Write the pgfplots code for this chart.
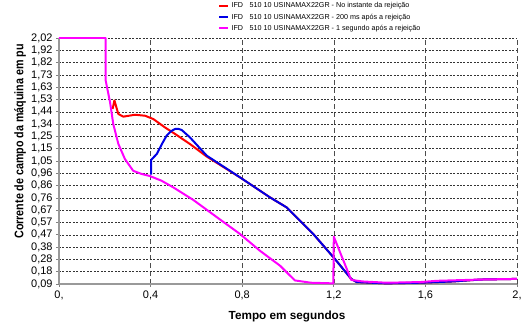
\documentclass[border=0pt]{standalone}
\usepackage{pgfplots}
\pgfplotsset{compat=1.18}
\usepackage{graphicx}
\usepackage{fontspec}
\setmainfont{Liberation Sans}
\definecolor{myred}{RGB}{255,0,0}
\definecolor{myblue}{RGB}{0,0,230}
\definecolor{mymag}{RGB}{255,0,255}
\begin{document}
\begin{tikzpicture}
\begin{axis}[
  scale only axis,
  width=458bp, height=246bp,
  xmin=0, xmax=2, ymin=0.09, ymax=2.02,
  axis x line*=bottom, axis y line*=left,
  axis line style={-, draw=gray!80, line width=1.2pt},
  xtick={0,0.4,0.8,1.2,1.6,2},
  xticklabels={{0,},{0,4},{0,8},{1,2},{1,6},{2,}},
  ytick={0.09,0.1865,0.283,0.3795,0.476,0.5725,0.669,0.7655,0.862,0.9585,1.055,1.1515,1.248,1.3445,1.441,1.5375,1.634,1.7305,1.827,1.9235,2.02},
  yticklabels={{0,09},{0,18},{0,28},{0,38},{0,47},{0,57},{0,67},{0,76},{0,86},{0,96},{1,05},{1,15},{1,25},{1,34},{1,44},{1,53},{1,63},{1,73},{1,82},{1,92},{2,02}},
  tick label style={font=\fontsize{11}{12}\selectfont},
  /pgf/number format/assume math mode=true,
  tick align=outside, major tick length=3pt,
  tick style={draw=gray, line width=0.8pt},
  xmajorgrids, ymajorgrids,
  x grid style={draw=black!70, line width=0.6pt, dash pattern=on 5pt off 3pt},
  y grid style={draw=black!80, line width=0.5pt, dash pattern=on 2pt off 1.5pt},
  xlabel={\bfseries Tempo em segundos},
  ylabel={\scalebox{0.86}[1]{\bfseries Corrente de campo da máquina em pu}},
  xlabel style={font=\fontsize{11.8}{13}\selectfont, at={(axis description cs:0.498,-0.133)}, anchor=center},
  ylabel style={font=\fontsize{12.5}{13}\selectfont, at={(axis description cs:-0.085,0.58)}, anchor=center},
  legend style={at={(axis description cs:0.347,1.152)}, anchor=north west,
    draw=none, fill=none, font=\fontsize{7.2}{8}\selectfont, row sep=0.3pt,
    inner sep=0pt},
  legend cell align=left,
  legend image code/.code={\draw[#1, line width=2.5pt] (0,0) -- (9bp,0);},
  every axis plot/.append style={line width=2pt, line join=round},
]
\addplot[myred] coordinates {
(0.234,1.463)(0.242,1.53)(0.259,1.424)(0.281,1.403)(0.305,1.41)(0.332,1.418)(0.376,1.41)(0.412,1.384)(0.463,1.318)(0.507,1.267)(0.572,1.188)(0.645,1.09)(0.79,0.927)(0.921,0.77)(0.994,0.691)(1.11,0.483)(1.205,0.286)(1.276,0.13)(1.30,0.105)(1.43,0.095)(1.576,0.10)(1.72,0.11)(1.84,0.125)(2.0,0.13)
};
\addlegendentry{IFD\hspace{0.9em}510 10 USINAMAX22GR - No instante da rejeição}
\addplot[myblue] coordinates {
(0.402,0.948)(0.402,1.063)(0.427,1.11)(0.45,1.19)(0.47,1.254)(0.49,1.29)(0.507,1.306)(0.52,1.308)(0.536,1.298)(0.572,1.24)(0.645,1.097)(0.79,0.927)(0.921,0.77)(0.994,0.691)(1.11,0.483)(1.205,0.286)(1.276,0.13)(1.30,0.105)(1.43,0.095)(1.576,0.10)(1.72,0.11)(1.84,0.125)(2.0,0.13)
};
\addlegendentry{IFD\hspace{0.9em}510 10 USINAMAX22GR - 200 ms após a rejeição}
\addplot[mymag] coordinates {
(0,2.02)(0.204,2.02)(0.204,1.685)(0.223,1.515)(0.237,1.345)(0.259,1.19)(0.288,1.07)(0.324,0.978)(0.361,0.953)(0.397,0.937)(0.448,0.90)(0.499,0.848)(0.586,0.75)(0.70,0.60)(0.79,0.483)(0.878,0.35)(0.965,0.234)(1.03,0.118)(1.10,0.10)(1.198,0.095)(1.2,0.461)(1.276,0.122)(1.326,0.11)(1.43,0.10)(1.576,0.105)(1.65,0.115)(1.84,0.125)(2.0,0.13)
};
\addlegendentry{IFD\hspace{0.9em}510 10 USINAMAX22GR - 1 segundo após a rejeição}
\end{axis}
\pgfresetboundingbox
\path (-59bp,-43bp) rectangle (463bp,284bp);
\end{tikzpicture}
\end{document}
